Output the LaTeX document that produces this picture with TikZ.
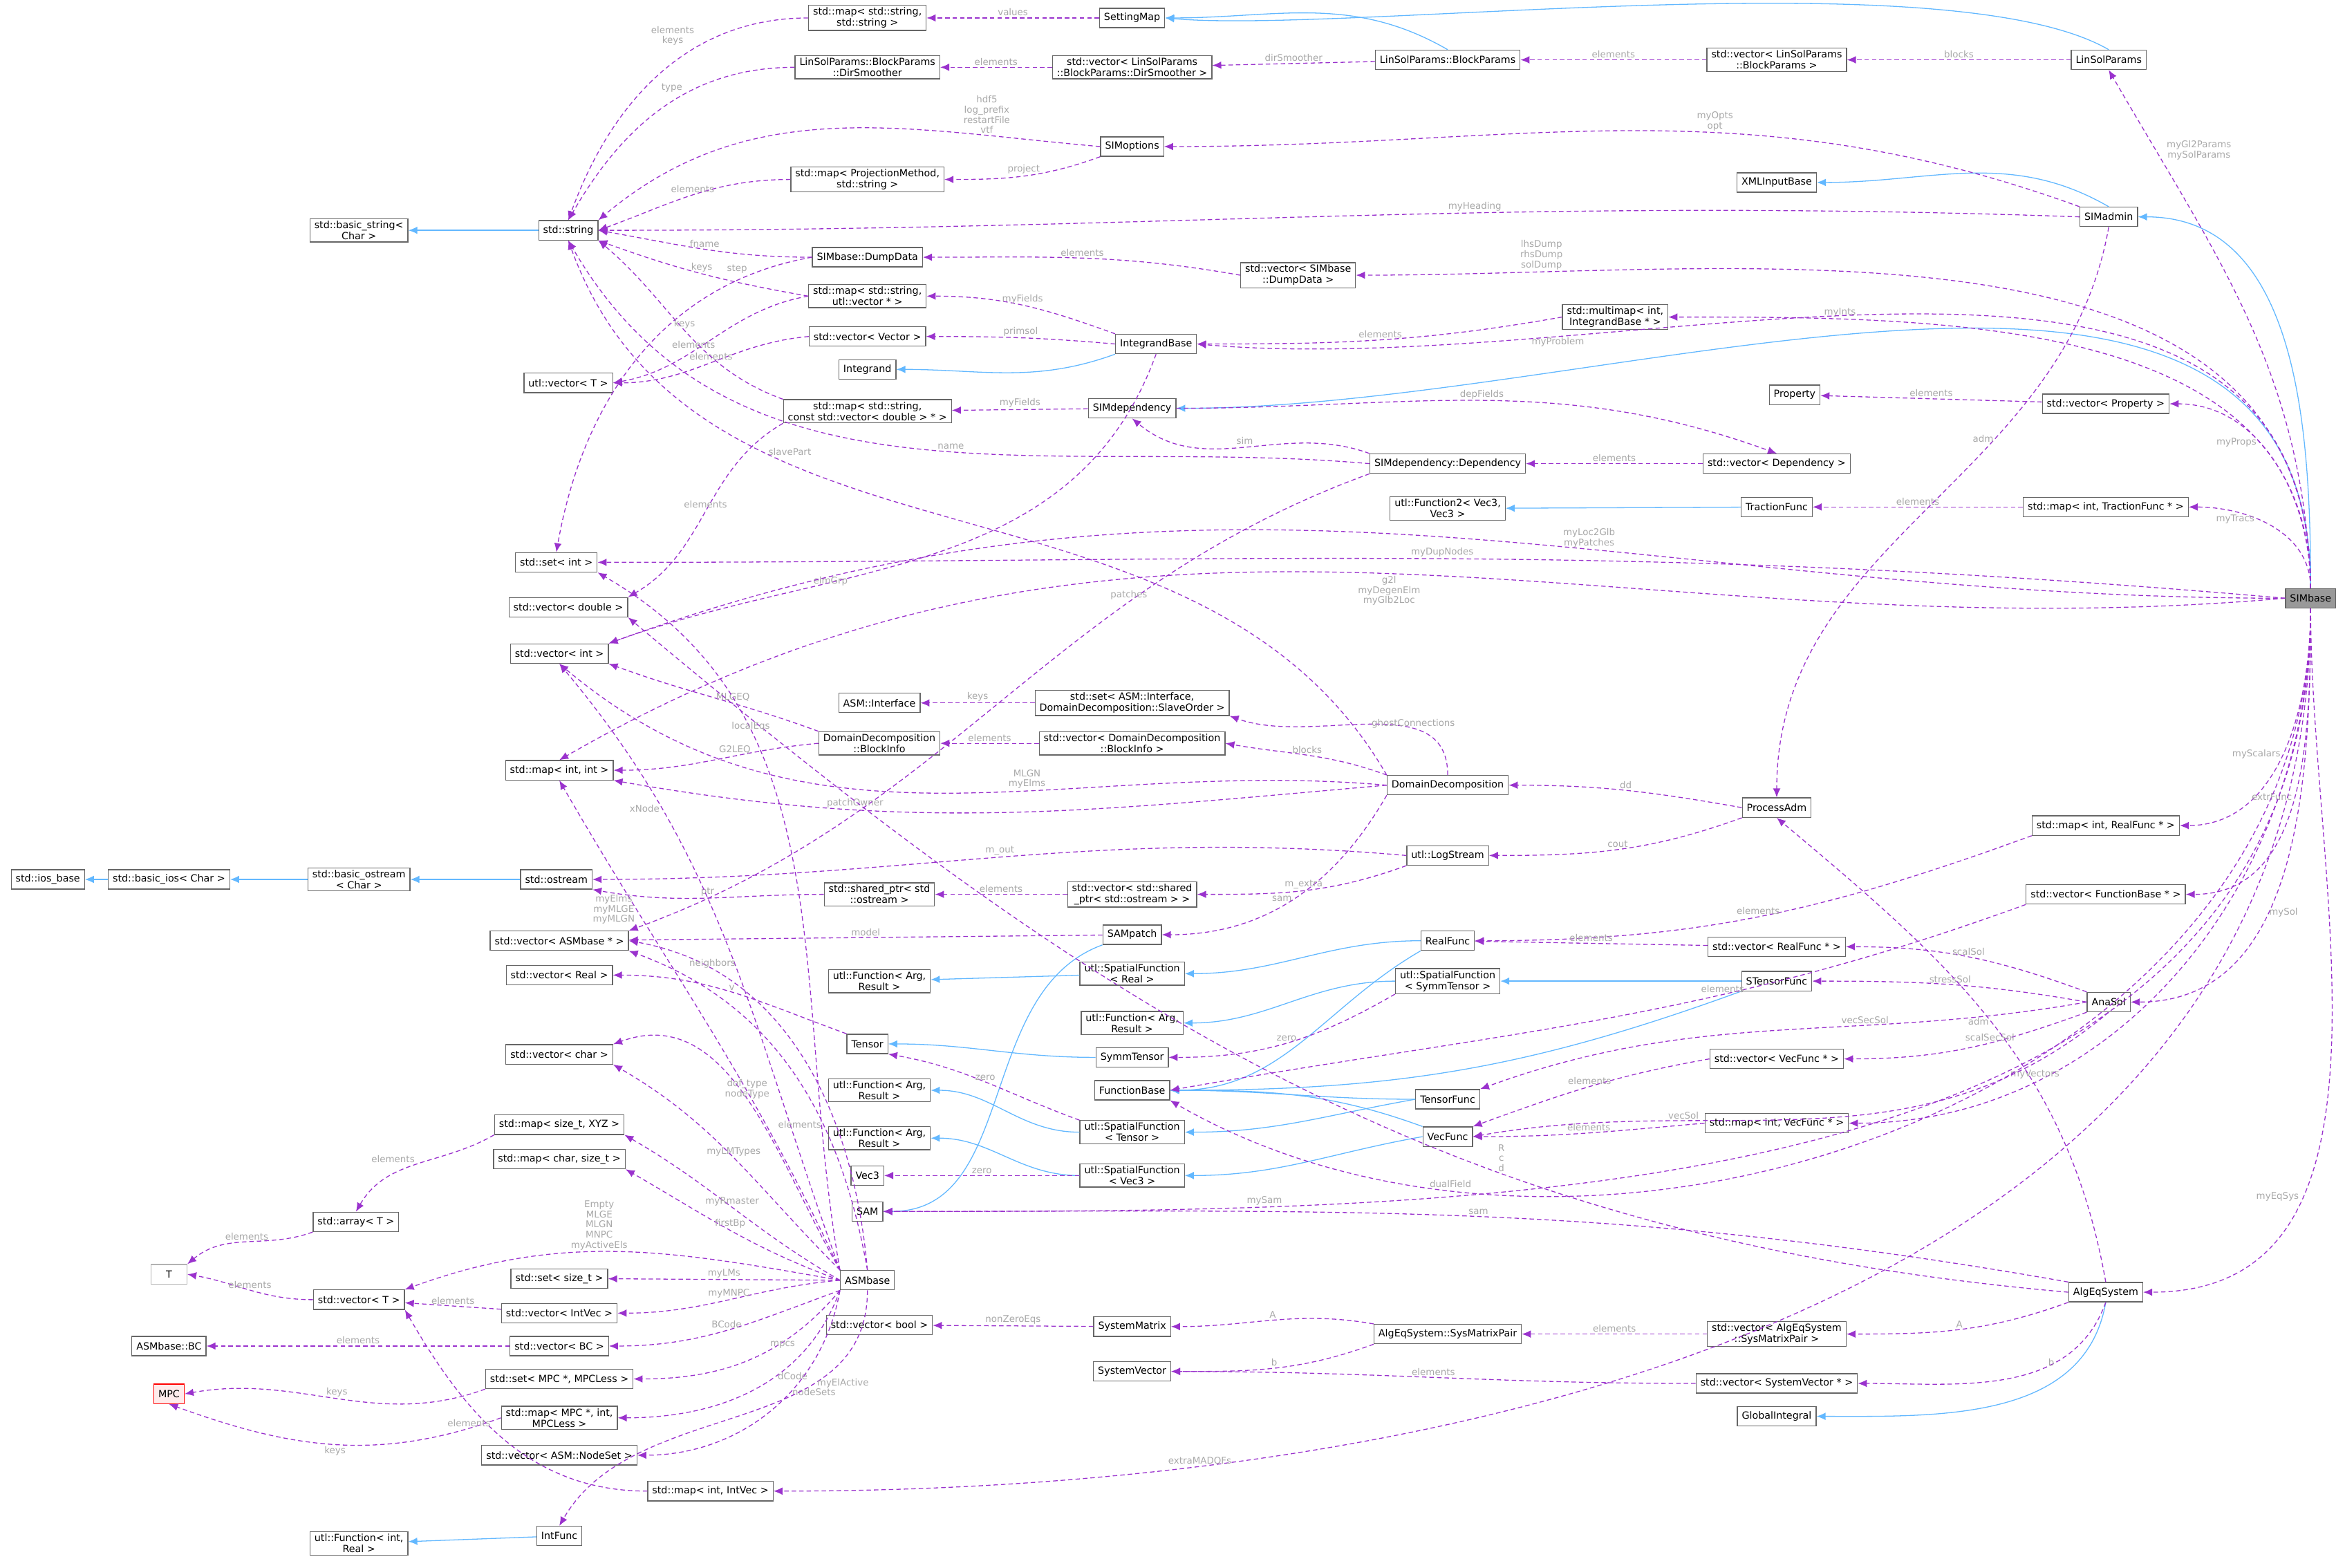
\documentclass[tikz,border=0pt]{standalone}
\usepackage{fontspec}
\setmainfont{DejaVu Sans}
\usetikzlibrary{arrows.meta}
\definecolor{depc}{HTML}{9A32CD}
\definecolor{inhc}{HTML}{63B8FF}
\definecolor{labc}{HTML}{A8A8A8}
\definecolor{boxc}{HTML}{666666}
\begin{document}
\begin{tikzpicture}[x=0.5pt,y=-0.5pt,
 box/.style={draw=boxc,fill=white,font=\fontsize{3.3}{3.7}\selectfont,align=center,inner xsep=1.5pt,inner ysep=0.75pt,minimum height=6.5pt,line width=0.3pt},
 dep/.style={draw=depc,dash pattern=on 1.5pt off 1pt,-{Latex[length=3pt,width=2.5pt]},line width=0.3pt},
 inh/.style={draw=inhc,-{Latex[length=3pt,width=2.5pt]},line width=0.3pt},
 lab/.style={font=\fontsize{3.1}{3.4}\selectfont,text=labc,align=center,inner sep=0.5pt}]
\useasboundingbox (0,0) rectangle (1568,1048);
% ---- nodes
\node[box] (mapss) at (580,12) {std::map< std::string,\\ std::string >};
\node[box] (SettingMap) at (757,12) {SettingMap};
\node[box] (DirSmoother) at (580,45) {LinSolParams::BlockParams\\::DirSmoother};
\node[box] (vecDirSmoother) at (757,45) {std::vector< LinSolParams\\::BlockParams::DirSmoother >};
\node[box] (BlockParams) at (968,40) {LinSolParams::BlockParams};
\node[box] (vecBlockParams) at (1188,40) {std::vector< LinSolParams\\::BlockParams >};
\node[box] (LinSolParams) at (1410,40) {LinSolParams};
\node[box] (SIMoptions) at (757,98) {SIMoptions};
\node[box] (mapProj) at (580,120) {std::map< ProjectionMethod,\\ std::string >};
\node[box] (XMLInputBase) at (1188,122) {XMLInputBase};
\node[box] (SIMadmin) at (1410,145) {SIMadmin};
\node[box] (basicstring) at (240,154) {std::basic\_string<\\ Char >};
\node[box] (string) at (380,154) {std::string};
\node[box] (DumpData) at (580,172) {SIMbase::DumpData};
\node[box] (vecDumpData) at (868,184) {std::vector< SIMbase\\::DumpData >};
\node[box] (mapStrVec) at (580,198) {std::map< std::string,\\ utl::vector * >};
\node[box] (multimap) at (1080,212) {std::multimap< int,\\ IntegrandBase * >};
\node[box] (vecVector) at (580,225) {std::vector< Vector >};
\node[box] (IntegrandBase) at (773,230) {IntegrandBase};
\node[box] (Integrand) at (580,247) {Integrand};
\node[box] (utlvecT) at (380,256) {utl::vector< T >};
\node[box] (mapStrConstVec) at (580,275) {std::map< std::string,\\ const std::vector< double > * >};
\node[box] (SIMdependency) at (757,273) {SIMdependency};
\node[box] (Property) at (1200,264) {Property};
\node[box] (vecProperty) at (1408,270) {std::vector< Property >};
\node[box] (Dependency) at (968,310) {SIMdependency::Dependency};
\node[box] (vecDependency) at (1188,310) {std::vector< Dependency >};
\node[box] (Function2) at (968,340) {utl::Function2< Vec3,\\ Vec3 >};
\node[box] (TractionFunc) at (1188,339) {TractionFunc};
\node[box] (mapTraction) at (1408,339) {std::map< int, TractionFunc * >};
\node[box] (setint) at (372,376) {std::set< int >};
\node[box] (vecdouble) at (380,406) {std::vector< double >};
\node[box] (vecint) at (374,437) {std::vector< int >};
\node[box,fill=black!40] (SIMbase) at (1545,400) {SIMbase};
\node[box] (ASMInterface) at (588,470) {ASM::Interface};
\node[box] (setASMI) at (757,470) {std::set< ASM::Interface,\\ DomainDecomposition::SlaveOrder >};
\node[box] (BlockInfo) at (588,497) {DomainDecomposition\\::BlockInfo};
\node[box] (vecBlockInfo) at (757,497) {std::vector< DomainDecomposition\\::BlockInfo >};
\node[box] (mapintint) at (374,515) {std::map< int, int >};
\node[box] (DD) at (968,525) {DomainDecomposition};
\node[box] (ProcessAdm) at (1188,540) {ProcessAdm};
\node[box] (mapRealFunc) at (1408,552) {std::map< int, RealFunc * >};
\node[box] (iosbase) at (32,588) {std::ios\_base};
\node[box] (basicios) at (113,588) {std::basic\_ios< Char >};
\node[box] (basicostream) at (240,588) {std::basic\_ostream\\< Char >};
\node[box] (ostream) at (372,588) {std::ostream};
\node[box] (LogStream) at (968,572) {utl::LogStream};
\node[box] (sharedptr) at (588,598) {std::shared\_ptr< std\\::ostream >};
\node[box] (vecshared) at (757,598) {std::vector< std::shared\\\_ptr< std::ostream > >};
\node[box] (vecFunctionBase) at (1408,598) {std::vector< FunctionBase * >};
\node[box] (vecASMbase) at (374,629) {std::vector< ASMbase * >};
\node[box] (SAMpatch) at (757,625) {SAMpatch};
\node[box] (RealFunc) at (968,629) {RealFunc};
\node[box] (vecRealFunc) at (1188,633) {std::vector< RealFunc * >};
\node[box] (vecReal) at (374,652) {std::vector< Real >};
\node[box] (FAR1) at (588,656) {utl::Function< Arg,\\ Result >};
\node[box] (SpatialReal) at (757,651) {utl::SpatialFunction\\< Real >};
\node[box] (SpatialSymm) at (968,656) {utl::SpatialFunction\\< SymmTensor >};
\node[box] (STensorFunc) at (1188,656) {STensorFunc};
\node[box] (AnaSol) at (1410,670) {AnaSol};
\node[box] (FAR2) at (757,684) {utl::Function< Arg,\\ Result >};
\node[box] (Tensor) at (580,698) {Tensor};
\node[box] (vecchar) at (374,705) {std::vector< char >};
\node[box] (SymmTensor) at (757,707) {SymmTensor};
\node[box] (FunctionBase) at (757,729) {FunctionBase};
\node[box] (vecVecFunc) at (1188,708) {std::vector< VecFunc * >};
\node[box] (FAR3) at (588,729) {utl::Function< Arg,\\ Result >};
\node[box] (TensorFunc) at (968,735) {TensorFunc};
\node[box] (mapsizeXYZ) at (374,752) {std::map< size\_t, XYZ >};
\node[box] (SpatialTensor) at (757,757) {utl::SpatialFunction\\< Tensor >};
\node[box] (FAR4) at (588,761) {utl::Function< Arg,\\ Result >};
\node[box] (VecFunc) at (968,760) {VecFunc};
\node[box] (mapVecFunc) at (1188,751) {std::map< int, VecFunc * >};
\node[box] (mapcharsize) at (374,775) {std::map< char, size\_t >};
\node[box] (Vec3) at (580,786) {Vec3};
\node[box] (SpatialVec3) at (757,786) {utl::SpatialFunction\\< Vec3 >};
\node[box] (arrayT) at (238,817) {std::array< T >};
\node[box] (SAM) at (580,810) {SAM};
\node[box,draw=black!30,minimum width=12pt] (T) at (113,852) {T};
\node[box] (setsize) at (374,855) {std::set< size\_t >};
\node[box] (ASMbase) at (580,856) {ASMbase};
\node[box] (vecT) at (240,869) {std::vector< T >};
\node[box] (vecIntVec) at (374,878) {std::vector< IntVec >};
\node[box] (AlgEqSystem) at (1408,864) {AlgEqSystem};
\node[box] (vecbool) at (588,886) {std::vector< bool >};
\node[box] (SystemMatrix) at (757,887) {SystemMatrix};
\node[box] (SysMatrixPair) at (968,892) {AlgEqSystem::SysMatrixPair};
\node[box] (vecSysMatPair) at (1188,892) {std::vector< AlgEqSystem\\::SysMatrixPair >};
\node[box] (ASMBC) at (113,900) {ASMbase::BC};
\node[box] (vecBC) at (374,900) {std::vector< BC >};
\node[box] (SystemVector) at (757,917) {SystemVector};
\node[box] (vecSysVec) at (1188,925) {std::vector< SystemVector * >};
\node[box] (setMPC) at (374,922) {std::set< MPC *, MPCLess >};
\node[box,draw=red,fill=red!8] (MPC) at (113,932) {MPC};
\node[box] (mapMPC) at (374,948) {std::map< MPC *, int,\\ MPCLess >};
\node[box] (GlobalIntegral) at (1188,947) {GlobalIntegral};
\node[box] (vecNodeSet) at (374,973) {std::vector< ASM::NodeSet >};
\node[box] (mapIntVec) at (475,997) {std::map< int, IntVec >};
\node[box] (IntFunc) at (374,1027) {IntFunc};
\node[box] (FuncIntReal) at (240,1032) {utl::Function< int,\\ Real >};
% ---- inheritance
\draw[inh] (BlockParams.north) to[out=150,in=0] (SettingMap.east);
\draw[inh] (LinSolParams.north) to[out=150,in=-5,looseness=0.5] (SettingMap.east);
\draw[inh] (SIMadmin.north) to[out=150,in=0] (XMLInputBase.east);
\draw[inh] (SIMbase.north) to[out=90,in=0] (SIMadmin.east);
\draw[inh] (SIMbase.north) to[out=90,in=0] (SIMdependency.east);
\draw[inh] (string) -- (basicstring);
\draw[inh] (IntegrandBase.south west) to[out=200,in=0] (Integrand.east);
\draw[inh] (TractionFunc) -- (Function2);
\draw[inh] (ostream) -- (basicostream);
\draw[inh] (basicostream) -- (basicios);
\draw[inh] (basicios) -- (iosbase);
\draw[inh] (SAMpatch.south west) to[out=200,in=0] (SAM.east);
\draw[inh] (RealFunc.west) to[out=180,in=0] (SpatialReal.east);
\draw[inh] (SpatialReal) -- (FAR1);
\draw[inh] (RealFunc.south west) to[out=210,in=0] (FunctionBase.east);
\draw[inh] (STensorFunc) -- (SpatialSymm);
\draw[inh] (SpatialSymm.west) to[out=180,in=0] (FAR2.east);
\draw[inh] (STensorFunc.south west) to[out=200,in=0] (FunctionBase.east);
\draw[inh] (SymmTensor.west) to[out=180,in=0] (Tensor.east);
\draw[inh] (TensorFunc.west) to[out=190,in=0] (SpatialTensor.east);
\draw[inh] (TensorFunc.west) to[out=180,in=0] (FunctionBase.east);
\draw[inh] (SpatialTensor.west) to[out=180,in=0] (FAR3.east);
\draw[inh] (VecFunc.west) to[out=190,in=0] (SpatialVec3.east);
\draw[inh] (VecFunc.north west) to[out=160,in=0] (FunctionBase.east);
\draw[inh] (SpatialVec3.west) to[out=180,in=0] (FAR4.east);
\draw[inh] (AlgEqSystem.south) to[out=-100,in=0] (GlobalIntegral.east);
\draw[inh] (IntFunc) -- (FuncIntReal);
% ---- top dependencies
\draw[dep] (SettingMap) -- node[lab,above]{values} (mapss);
\draw[dep] (mapss.west) to[out=180,in=70] node[lab,pos=0.35,above left]{elements\\keys} (string.north);
\draw[dep] (vecDirSmoother) -- node[lab,above]{elements} (DirSmoother);
\draw[dep] (DirSmoother.west) to[out=180,in=60] node[lab,pos=0.4,above left]{type} (string.north);
\draw[dep] (BlockParams) -- node[lab,above]{dirSmoother} (vecDirSmoother);
\draw[dep] (vecBlockParams) -- node[lab,above]{elements} (BlockParams);
\draw[dep] (LinSolParams) -- node[lab,above]{blocks} (vecBlockParams);
\draw[dep] (SIMbase.north) to[out=92,in=-60] node[lab,pos=0.85,right=3pt]{myGl2Params\\mySolParams} (LinSolParams.south);
\draw[dep] (SIMoptions.west) to[out=175,in=40] node[lab,pos=0.2,above]{hdf5\\log\_prefix\\restartFile\\vtf} (string.north east);
\draw[dep] (SIMoptions.south west) to[out=200,in=0] node[lab,above]{project} (mapProj.east);
\draw[dep] (mapProj.west) to[out=180,in=20] node[lab,above]{elements} (string.east);
\draw[dep] (SIMadmin.north west) to[out=160,in=0] node[lab,pos=0.4,above]{myOpts\\opt} (SIMoptions.east);
\draw[dep] (SIMadmin.west) to[out=178,in=0] node[lab,pos=0.4,above]{myHeading} (string.east);
\draw[dep] (SIMadmin.south) to[out=-100,in=90] node[lab,pos=0.35,left]{adm} (ProcessAdm.north);
\draw[dep] (DumpData.west) to[out=180,in=-10] node[lab,above]{fname} (string.east);
\draw[dep] (DumpData.west) to[out=190,in=80] node[lab,pos=0.15,above left]{step} (setint.north);
\draw[dep] (vecDumpData.west) to[out=170,in=0] node[lab,above]{elements} (DumpData.east);
\draw[dep] (SIMbase.north) to[out=90,in=0] node[lab,pos=0.85,above]{lhsDump\\rhsDump\\solDump} (vecDumpData.east);
\draw[dep] (mapStrVec.west) to[out=170,in=-20] node[lab,above]{keys} (string.south east);
\draw[dep] (mapStrVec.west) to[out=190,in=10] node[lab,pos=0.6,above]{elements} (utlvecT.east);
\draw[dep] (IntegrandBase.north west) to[out=160,in=0] node[lab,above]{myFields} (mapStrVec.east);
\draw[dep] (IntegrandBase.west) to[out=175,in=0] node[lab,above]{primsol} (vecVector.east);
\draw[dep] (vecVector.west) to[out=185,in=0] node[lab,above]{elements} (utlvecT.east);
\draw[dep] (IntegrandBase.south) to[out=-110,in=20] node[lab,pos=0.7,above right]{elmGrp} (vecint.north east);
\draw[dep] (multimap.west) to[out=190,in=0] node[lab,above]{elements} (IntegrandBase.east);
\draw[dep] (SIMbase.north) to[out=90,in=0] node[lab,pos=0.8,above]{myInts} (multimap.east);
\draw[dep] (SIMbase.north) to[out=90,in=-5] node[lab,pos=0.75,below]{myProblem} (IntegrandBase.east);
\draw[dep] (mapStrConstVec.north west) to[out=160,in=-40] node[lab,above]{keys} (string.south east);
\draw[dep] (mapStrConstVec.south west) to[out=210,in=30] node[lab,above]{elements} (vecdouble.north east);
\draw[dep] (SIMdependency) -- node[lab,above]{myFields} (mapStrConstVec);
\draw[dep] (SIMdependency.east) to[out=0,in=160] node[lab,above]{depFields} (vecDependency.north);
\draw[dep] (Dependency.north west) to[out=160,in=-40] node[lab,above]{sim} (SIMdependency.south);
\draw[dep] (Dependency.west) to[out=175,in=-60] node[lab,pos=0.45,above]{name} (string.south);
\draw[dep] (Dependency.south west) to[out=200,in=20] node[lab,pos=0.3,above]{patches} (vecASMbase.north east);
\draw[dep] (vecDependency) -- node[lab,above]{elements} (Dependency);
\draw[dep] (vecProperty) -- node[lab,above]{elements} (Property);
\draw[dep] (SIMbase.north) to[out=90,in=0] node[lab,pos=0.6,left]{myProps} (vecProperty.east);
\draw[dep] (SIMbase.north) to[out=90,in=0] node[lab,pos=0.6,left]{myTracs} (mapTraction.east);
\draw[dep] (mapTraction) -- node[lab,above]{elements} (TractionFunc);
\draw[dep] (SIMbase.west) to[out=175,in=0] node[lab,pos=0.5,above]{myDupNodes} (setint.east);
\draw[dep] (SIMbase.west) to[out=180,in=20] node[lab,pos=0.4,above]{myLoc2Glb\\myPatches} (vecint.north east);
\draw[dep] (SIMbase.west) to[out=185,in=30] node[lab,pos=0.5,below]{g2l\\myDegenElm\\myGlb2Loc} (mapintint.north);
\draw[dep] (SIMbase.south) to[out=-90,in=0] node[lab,pos=0.5,left]{myScalars} (mapRealFunc.east);
\draw[dep] (SIMbase.south) to[out=-90,in=0] node[lab,pos=0.5,left]{extrFunc} (vecFunctionBase.east);
\draw[dep] (SIMbase.south) to[out=-90,in=0] node[lab,pos=0.6,right]{mySol} (AnaSol.east);
\draw[dep] (SIMbase.south) to[out=-90,in=0] node[lab,pos=0.75,above]{myVectors} (mapVecFunc.east);
\draw[dep] (SIMbase.south) to[out=-90,in=0] node[lab,pos=0.8,above]{mySam} (SAM.east);
\draw[dep] (SIMbase.south) to[out=-90,in=-30] node[lab,pos=0.8,above]{dualField} (FunctionBase.south east);
\draw[dep] (SIMbase.south) to[out=-90,in=0] node[lab,pos=0.7,left]{myEqSys} (AlgEqSystem.east);
\draw[dep] (SIMbase.south) to[out=-90,in=0] node[lab,pos=0.8,above]{extraMADOFs} (mapIntVec.east);
% ---- middle
\draw[dep] (setASMI) -- node[lab,above]{keys} (ASMInterface);
\draw[dep] (vecBlockInfo) -- node[lab,above]{elements} (BlockInfo);
\draw[dep] (BlockInfo.north west) to[out=160,in=-20] node[lab,pos=0.4,above]{MLGEQ} (vecint.south east);
\draw[dep] (BlockInfo.west) to[out=185,in=0] node[lab,pos=0.4,above]{G2LEQ} (mapintint.east);
\draw[dep] (DD.north) to[out=90,in=-20] node[lab,pos=0.5,right]{ghostConnections} (setASMI.south east);
\draw[dep] (DD.north west) to[out=160,in=-10] node[lab,pos=0.5,above]{blocks} (vecBlockInfo.east);
\draw[dep] (DD.west) to[out=175,in=-40] node[lab,pos=0.4,above]{MLGN\\myElms} (vecint.south);
\draw[dep] (DD.west) to[out=185,in=-10] node[lab,pos=0.7,above]{patchOwner} (mapintint.south east);
\draw[dep] (DD.north west) to[out=120,in=-70] node[lab,pos=0.7,right]{slavePart} (string.south);
\draw[dep] (DD.south west) to[out=240,in=0] node[lab,pos=0.5,left]{sam} (SAMpatch.east);
\draw[dep] (ProcessAdm.west) to[out=170,in=0] node[lab,above]{dd} (DD.east);
\draw[dep] (ProcessAdm.south west) to[out=200,in=0] node[lab,above]{cout} (LogStream.east);
\draw[dep] (LogStream.west) to[out=175,in=0] node[lab,pos=0.5,above]{m\_out} (ostream.east);
\draw[dep] (LogStream.south west) to[out=200,in=0] node[lab,above]{m\_extra} (vecshared.east);
\draw[dep] (vecshared) -- node[lab,above]{elements} (sharedptr);
\draw[dep] (sharedptr.west) to[out=180,in=-10] node[lab,above]{ptr} (ostream.south east);
\draw[dep] (mapRealFunc.south west) to[out=200,in=0] node[lab,above]{elements} (RealFunc.east);
\draw[dep] (vecRealFunc) -- node[lab,above]{elements} (RealFunc);
\draw[dep] (vecFunctionBase.south west) to[out=200,in=10] node[lab,pos=0.35,above]{elements} (FunctionBase.east);
\draw[dep] (SAMpatch) -- node[lab,above]{model} (vecASMbase);
\draw[dep] (SpatialSymm.south west) to[out=210,in=0] node[lab,above]{zero} (SymmTensor.east);
\draw[dep] (SpatialTensor.north west) to[out=160,in=-10] node[lab,above]{zero} (Tensor.south east);
\draw[dep] (SpatialVec3) -- node[lab,above]{zero} (Vec3);
\draw[dep] (Tensor.north west) to[out=160,in=0] node[lab,above]{v} (vecReal.east);
\draw[dep] (AnaSol.north west) to[out=160,in=0] node[lab,above]{scalSol} (vecRealFunc.east);
\draw[dep] (AnaSol.west) to[out=170,in=0] node[lab,above]{stressSol} (STensorFunc.east);
\draw[dep] (AnaSol.west) to[out=190,in=20] node[lab,pos=0.35,above]{vecSecSol} (TensorFunc.north east);
\draw[dep] (AnaSol.south west) to[out=200,in=0] node[lab,pos=0.4,above]{scalSecSol} (vecVecFunc.east);
\draw[dep] (AnaSol.south) to[out=220,in=10] node[lab,pos=0.7,above]{vecSol} (VecFunc.east);
\draw[dep] (vecVecFunc.west) to[out=190,in=20] node[lab,above]{elements} (VecFunc.north east);
\draw[dep] (mapVecFunc.west) to[out=185,in=0] node[lab,above]{elements} (VecFunc.east);
% ---- bottom
\draw[dep] (AlgEqSystem.north) to[out=100,in=-40] node[lab,pos=0.5,left]{adm} (ProcessAdm.south);
\draw[dep] (AlgEqSystem.north west) to[out=170,in=0] node[lab,pos=0.5,above]{sam} (SAM.east);
\draw[dep] (AlgEqSystem.west) to[out=175,in=-40] node[lab,pos=0.35,above]{R\\c\\d} (vecdouble.south east);
\draw[dep] (AlgEqSystem.south west) to[out=200,in=0] node[lab,above]{A} (vecSysMatPair.east);
\draw[dep] (AlgEqSystem.south) to[out=-110,in=0] node[lab,pos=0.3,left]{b} (vecSysVec.east);
\draw[dep] (vecSysMatPair) -- node[lab,above]{elements} (SysMatrixPair);
\draw[dep] (SysMatrixPair.north west) to[out=170,in=0] node[lab,above]{A} (SystemMatrix.east);
\draw[dep] (SysMatrixPair.south west) to[out=200,in=0] node[lab,above]{b} (SystemVector.east);
\draw[dep] (vecSysVec.west) to[out=180,in=0] node[lab,above]{elements} (SystemVector.east);
\draw[dep] (SystemMatrix) -- node[lab,above]{nonZeroEqs} (vecbool);
\draw[dep] (mapsizeXYZ.south west) to[out=210,in=60] node[lab,above left]{elements} (arrayT.north);
\draw[dep] (arrayT.south west) to[out=200,in=40] node[lab,above]{elements} (T.north east);
\draw[dep] (vecT.west) to[out=180,in=-10] node[lab,above]{elements} (T.east);
\draw[dep] (vecIntVec) -- node[lab,above]{elements} (vecT);
\draw[dep] (vecBC) -- node[lab,above]{elements} (ASMBC);
\draw[dep] (setMPC.south west) to[out=200,in=10] node[lab,above]{keys} (MPC.east);
\draw[dep] (mapMPC.west) to[out=200,in=-20] node[lab,pos=0.5,below]{keys} (MPC.south);
\draw[dep] (mapIntVec.west) to[out=180,in=-60] node[lab,pos=0.55,above left]{elements} (vecT.south east);
% ASMbase
\draw[dep] (ASMbase.north west) to[out=100,in=-30] node[lab,pos=0.7,above]{localEqs} (setint.south east);
\draw[dep] (ASMbase.north west) to[out=110,in=-50] node[lab,pos=0.75,left]{xNode} (vecint.south);
\draw[dep] (ASMbase.north west) to[out=115,in=-60] node[lab,pos=0.75,left]{myElms\\myMLGE\\myMLGN} (mapintint.south);
\draw[dep] (ASMbase.north) to[out=100,in=-20] node[lab,pos=0.35,left]{elements} (vecASMbase.south east);
\draw[dep] (ASMbase.north) to[out=95,in=-10] node[lab,pos=0.8,above]{neighbors} (vecASMbase.east);
\draw[dep] (ASMbase.north west) to[out=120,in=20] node[lab,pos=0.5,above]{dof\_type\\nodeType} (vecchar.north east);
\draw[dep] (ASMbase.north west) to[out=135,in=-30] node[lab,pos=0.5,above]{myLMTypes} (vecchar.south east);
\draw[dep] (ASMbase.west) to[out=150,in=-30] node[lab,pos=0.5,above]{myRmaster} (mapsizeXYZ.south east);
\draw[dep] (ASMbase.west) to[out=160,in=-30] node[lab,pos=0.5,above]{firstBp} (mapcharsize.south east);
\draw[dep] (ASMbase.west) to[out=170,in=20] node[lab,pos=0.55,above]{Empty\\MLGE\\MLGN\\MNPC\\myActiveEls} (vecT.north east);
\draw[dep] (ASMbase.west) -- node[lab,above]{myLMs} (setsize.east);
\draw[dep] (ASMbase.west) to[out=185,in=0] node[lab,pos=0.5,above]{myMNPC} (vecIntVec.east);
\draw[dep] (ASMbase.south west) to[out=200,in=0] node[lab,pos=0.5,above]{BCode} (vecBC.east);
\draw[dep] (ASMbase.south west) to[out=230,in=0] node[lab,pos=0.4,above right]{mpcs} (setMPC.east);
\draw[dep] (ASMbase.south west) to[out=250,in=0] node[lab,pos=0.4,right]{dCode} (mapMPC.east);
\draw[dep] (ASMbase.south west) to[out=260,in=0] node[lab,pos=0.4,right]{nodeSets} (vecNodeSet.east);
\draw[dep] (ASMbase.south) to[out=-90,in=60] node[lab,pos=0.3,right]{myElActive} (IntFunc.north);
\end{tikzpicture}
\end{document}
